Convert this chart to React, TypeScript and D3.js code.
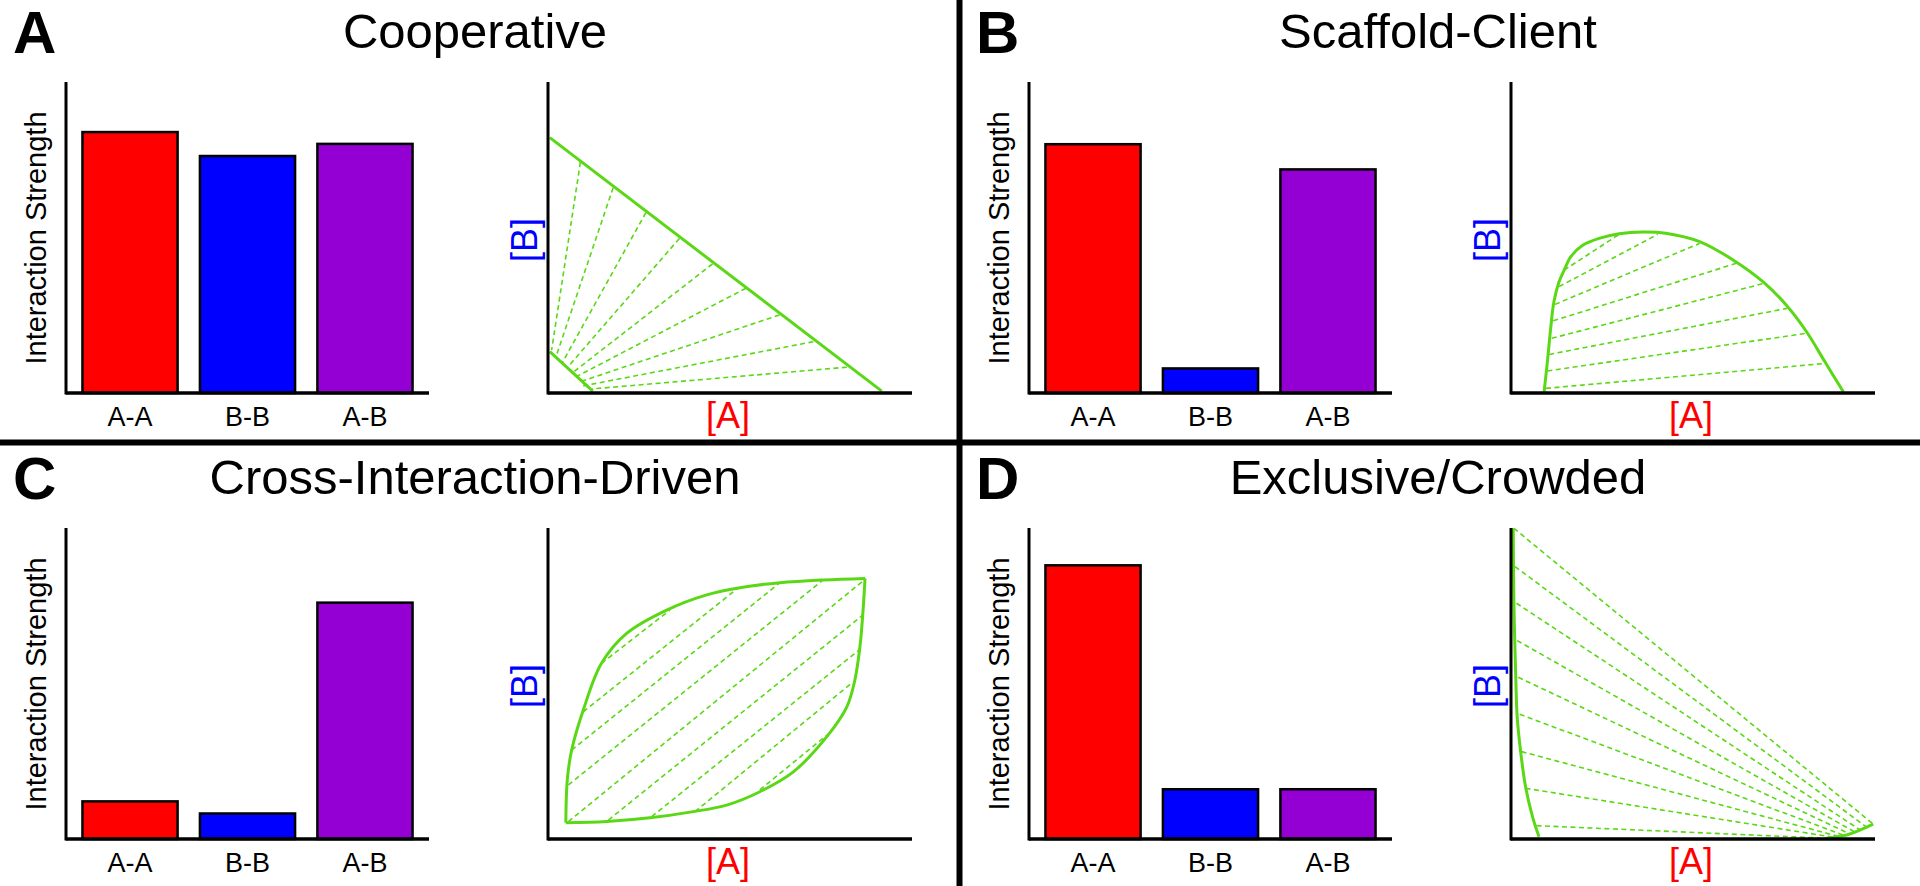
import React from "react";
import * as d3 from "d3";

type Pt = [number, number];

// ---- Data ----
const categories = ["A-A", "B-B", "A-B"];
const barColors = ["#ff0000", "#0000ff", "#9400d3"];

const panelLetters = ["A", "B", "C", "D"];
const panelTitles = ["Cooperative", "Scaffold-Client", "Cross-Interaction-Driven", "Exclusive/Crowded"];

const cooperativeBars = [0.839, 0.762, 0.801];
const scaffoldBars = [0.8, 0.079, 0.719];
const crossBars = [0.121, 0.082, 0.76];
const exclusiveBars = [0.88, 0.16, 0.16];

// Phase boundaries (fraction of axis, [A], [B])
const cooperativeOuter: Pt[] = [[0.005, 0.821], [0.917, 0.006]];
const cooperativeInner: Pt[] = [[0.005, 0.133], [0.123, 0.006]];
const cooperativeTies: [Pt, Pt][] = [
  [[0.089, 0.742], [0.01, 0.138]],
  [[0.179, 0.66], [0.022, 0.117]],
  [[0.269, 0.58], [0.038, 0.095]],
  [[0.361, 0.497], [0.051, 0.079]],
  [[0.452, 0.415], [0.065, 0.063]],
  [[0.544, 0.337], [0.077, 0.052]],
  [[0.636, 0.251], [0.088, 0.036]],
  [[0.729, 0.165], [0.097, 0.023]],
  [[0.821, 0.083], [0.12, 0.013]],
];

const scaffoldBoundary: Pt[] = [
  [0.091, 0.004], [0.1, 0.101], [0.109, 0.208], [0.118, 0.294], [0.132, 0.358],
  [0.146, 0.395], [0.164, 0.438], [0.196, 0.474], [0.242, 0.497], [0.297, 0.512],
  [0.362, 0.518], [0.425, 0.514], [0.518, 0.487], [0.61, 0.428], [0.692, 0.358],
  [0.756, 0.283], [0.812, 0.197], [0.862, 0.101], [0.913, 0.004],
];
const scaffoldTies: [Pt, Pt][] = [
  [[0.096, 0.015], [0.862, 0.095]],
  [[0.1, 0.071], [0.812, 0.192]],
  [[0.105, 0.124], [0.758, 0.272]],
  [[0.112, 0.176], [0.697, 0.353]],
  [[0.116, 0.232], [0.619, 0.417]],
  [[0.121, 0.285], [0.518, 0.481]],
  [[0.132, 0.342], [0.403, 0.51]],
  [[0.146, 0.395], [0.297, 0.51]],
];

const crossUpper: Pt[] = [
  [0.049, 0.052], [0.053, 0.19], [0.065, 0.286], [0.097, 0.415], [0.147, 0.565],
  [0.216, 0.661], [0.326, 0.736], [0.436, 0.785], [0.527, 0.808], [0.637, 0.824],
  [0.757, 0.833], [0.871, 0.838],
];
const crossLower: Pt[] = [
  [0.049, 0.052], [0.161, 0.056], [0.28, 0.068], [0.399, 0.088], [0.491, 0.109],
  [0.582, 0.152], [0.674, 0.216], [0.766, 0.329], [0.821, 0.425], [0.843, 0.511],
  [0.857, 0.618], [0.865, 0.726], [0.871, 0.838],
];
const crossTies: [Pt, Pt][] = [
  [[0.147, 0.565], [0.335, 0.736]],
  [[0.097, 0.409], [0.523, 0.808]],
  [[0.065, 0.286], [0.637, 0.824]],
  [[0.056, 0.174], [0.756, 0.833]],
  [[0.056, 0.056], [0.871, 0.835]],
  [[0.166, 0.061], [0.865, 0.72]],
  [[0.285, 0.072], [0.855, 0.608]],
  [[0.404, 0.088], [0.834, 0.501]],
  [[0.582, 0.158], [0.766, 0.334]],
];

const exclusiveLeft: Pt[] = [
  [0.006, 0.999], [0.008, 0.758], [0.013, 0.522], [0.017, 0.393], [0.027, 0.276],
  [0.04, 0.168], [0.059, 0.072], [0.077, 0.007],
];
const exclusiveRight: Pt[] = [[0.862, 0.002], [0.922, 0.013], [0.995, 0.048]];
const exclusiveTies: [Pt, Pt][] = [
  [[0.008, 0.999], [0.995, 0.048]],
  [[0.011, 0.876], [0.977, 0.038]],
  [[0.015, 0.758], [0.959, 0.029]],
  [[0.017, 0.638], [0.945, 0.022]],
  [[0.02, 0.52], [0.931, 0.016]],
  [[0.024, 0.401], [0.917, 0.011]],
  [[0.029, 0.281], [0.904, 0.007]],
  [[0.04, 0.163], [0.89, 0.005]],
  [[0.07, 0.043], [0.876, 0.002]],
];

const panelBars = [cooperativeBars, scaffoldBars, crossBars, exclusiveBars];
const panelCurves: Pt[][][] = [
  [cooperativeOuter, cooperativeInner],
  [scaffoldBoundary],
  [crossUpper, crossLower],
  [exclusiveLeft, exclusiveRight],
];
const panelTies = [cooperativeTies, scaffoldTies, crossTies, exclusiveTies];

// ---- Layout ----
const W = 1920;
const H = 886;
const FONT = "'Liberation Sans', Arial, Helvetica, sans-serif";
const GREEN = "#5ad816";

function Panel({ idx }: { idx: number }) {
  const x0 = idx % 2 === 0 ? 0 : 963;
  const y0 = idx < 2 ? 0 : 446;

  const barX = d3
    .scaleBand<string>()
    .domain(categories)
    .range([x0 + 66, x0 + 429])
    .paddingInner(0.19)
    .paddingOuter(0.14);
  const barY = d3.scaleLinear().domain([0, 1]).range([y0 + 393, y0 + 82]);

  const px = d3.scaleLinear().domain([0, 1]).range([x0 + 548, x0 + 912]);
  const py = d3.scaleLinear().domain([0, 1]).range([y0 + 393, y0 + 82]);
  const line = d3
    .line<Pt>()
    .x((d) => px(d[0]))
    .y((d) => py(d[1]))
    .curve(d3.curveCatmullRom.alpha(0.5));

  const vals = panelBars[idx];
  const base = barY(0);

  return (
    <g>
      <text x={x0 + 13} y={y0 + 53} fontFamily={FONT} fontWeight="bold" fontSize={60} fill="#000">
        {panelLetters[idx]}
      </text>
      <text x={x0 + 475} y={y0 + 48} fontFamily={FONT} fontSize={49} textAnchor="middle" fill="#000">
        {panelTitles[idx]}
      </text>

      {/* Bar chart */}
      {vals.map((v, i) => (
        <rect
          key={i}
          x={barX(categories[i])!}
          y={barY(v)}
          width={barX.bandwidth()}
          height={base - barY(v)}
          fill={barColors[i]}
          stroke="#000"
          strokeWidth={2.5}
        />
      ))}
      <line x1={x0 + 66} y1={barY.range()[1]} x2={x0 + 66} y2={base + 1.5} stroke="#000" strokeWidth={3} />
      <line x1={x0 + 66} y1={base} x2={x0 + 429} y2={base} stroke="#000" strokeWidth={3.5} />
      {categories.map((c) => (
        <text
          key={c}
          x={barX(c)! + barX.bandwidth() / 2}
          y={y0 + 426}
          fontFamily={FONT}
          fontSize={27}
          textAnchor="middle"
          fill="#000"
        >
          {c}
        </text>
      ))}
      <text
        transform={`translate(${x0 + 46},${y0 + 238}) rotate(-90)`}
        fontFamily={FONT}
        fontSize={29}
        textAnchor="middle"
        fill="#000"
      >
        Interaction Strength
      </text>

      {/* Phase diagram */}
      {panelTies[idx].map((t, i) => (
        <line
          key={i}
          x1={px(t[0][0])}
          y1={py(t[0][1])}
          x2={px(t[1][0])}
          y2={py(t[1][1])}
          stroke={GREEN}
          strokeWidth={1.6}
          strokeDasharray="5,3.5"
        />
      ))}
      {panelCurves[idx].map((c, i) => (
        <path key={i} d={line(c) || ""} fill="none" stroke={GREEN} strokeWidth={3} strokeLinejoin="round" />
      ))}
      <line x1={px(0)} y1={py.range()[1]} x2={px(0)} y2={py(0) + 1.5} stroke="#000" strokeWidth={3} />
      <line x1={px(0)} y1={py(0)} x2={px(1)} y2={py(0)} stroke="#000" strokeWidth={3.5} />
      <text x={x0 + 728} y={y0 + 428} fontFamily={FONT} fontSize={36} textAnchor="middle" fill="#ff0000">
        [A]
      </text>
      <text
        transform={`translate(${x0 + 537},${y0 + 240}) rotate(-90)`}
        fontFamily={FONT}
        fontSize={36}
        textAnchor="middle"
        fill="#0000ff"
      >
        [B]
      </text>
    </g>
  );
}

export default function App() {
  return (
    <svg
      width={W}
      height={H}
      viewBox={`0 0 ${W} ${H}`}
      style={{ position: "absolute", left: 0, top: 0, background: "#fff" }}
    >
      <rect x={0} y={0} width={W} height={H} fill="#fff" />
      {[0, 1, 2, 3].map((i) => (
        <Panel key={i} idx={i} />
      ))}
      <line x1={959.5} y1={0} x2={959.5} y2={H} stroke="#000" strokeWidth={6} />
      <line x1={0} y1={442.5} x2={W} y2={442.5} stroke="#000" strokeWidth={6} />
    </svg>
  );
}
